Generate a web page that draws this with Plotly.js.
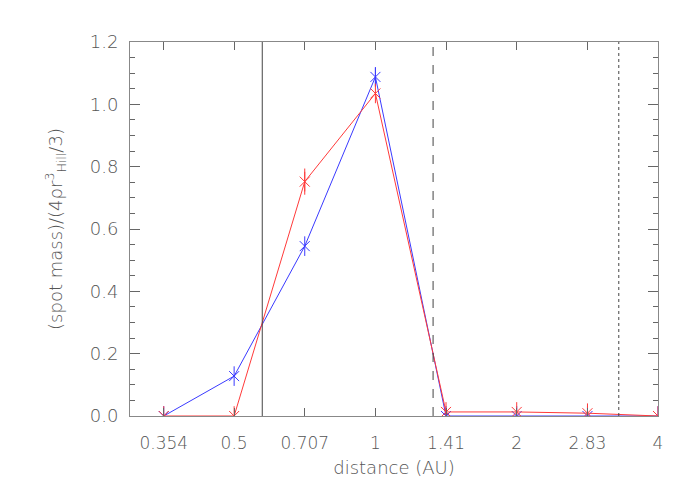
<!DOCTYPE html>
<html>
<head>
<meta charset="utf-8">
<script src="https://cdn.plot.ly/plotly-3.0.1.min.js"></script>
<style>html,body{margin:0;padding:0;background:#fff}#chart{width:700px;height:500px}</style>
</head>
<body>
<div id="chart"></div>
<script>
const distance = [0.354, 0.5, 0.707, 1.0, 1.414, 2.0, 2.83, 4.0];
const tickVals = [0.354, 0.5, 0.707, 1.0, 1.414, 2.0, 2.83, 4.0];
const tickText = ['0.354', '0.5', '0.707', '1', '1.41', '2', '2.83', '4'];
const redMass = [0.0, 0.0, 0.752, 1.035, 0.013, 0.013, 0.009, 0.0];
const redErr = [0, 0, 0.042, 0, 0, 0, 0, 0];
const blueMass = [0.0, 0.128, 0.545, 1.088, 0.0, 0.0, 0.0, 0.0];
const blueErr = [0, 0, 0, 0.03, 0, 0, 0, 0];
const markerLines = [0.574, 1.327, 3.30];
const markerDash = ['solid', 'dash', 'dot'];

const RED = '#ff3a3a', BLUE = '#3a3aff';
const FONT = {family: 'DejaVu Sans, Liberation Sans, sans-serif', size: 17, color: '#555', weight: 200};
const TITLEFONT = {family: 'DejaVu Sans, Liberation Sans, sans-serif', size: 18, color: '#555', weight: 200};

function series(y, err, color) {
  return [
    {x: distance, y: y, mode: 'lines+markers', type: 'scatter', cliponaxis: true,
     line: {color: color, width: 1},
     marker: {symbol: 'x-thin-open', size: 10, color: color, line: {color: color, width: 1}},
     error_y: {type: 'data', array: err, visible: true, color: color, thickness: 1, width: 0},
     showlegend: false, hoverinfo: 'x+y'},
    {x: distance, y: y, mode: 'markers', type: 'scatter', cliponaxis: true,
     marker: {symbol: 'line-ns-open', size: 14, color: color, line: {color: color, width: 1}},
     showlegend: false, hoverinfo: 'skip'}
  ];
}

const data = [...series(blueMass, blueErr, BLUE), ...series(redMass, redErr, RED)];

const shapes = markerLines.map((v, i) => ({
  type: 'line', xref: 'x', yref: 'paper', x0: v, x1: v, y0: 0, y1: 1,
  line: {color: '#444', width: 1, dash: markerDash[i]}
}));

const layout = {
  width: 700, height: 500,
  margin: {l: 130, r: 42, t: 42, b: 84},
  paper_bgcolor: '#fff', plot_bgcolor: '#fff',
  font: FONT,
  showlegend: false,
  shapes: shapes,
  xaxis: {
    type: 'log', range: [Math.log10(0.3), Math.log10(4)],
    tickvals: tickVals, ticktext: tickText,
    ticks: 'inside', ticklen: 8, tickcolor: '#666', tickwidth: 1,
    ticklabelstandoff: 12,
    showline: true, linecolor: '#888', linewidth: 1, mirror: 'ticks',
    showgrid: false, zeroline: false,
    tickfont: FONT,
    title: {text: 'distance (AU)', font: TITLEFONT, standoff: 8}
  },
  yaxis: {
    range: [0, 1.2], dtick: 0.2, tickformat: '.1f',
    ticks: 'inside', ticklen: 10, tickcolor: '#666', tickwidth: 1,
    ticklabelstandoff: 7,
    minor: {dtick: 0.05, ticks: 'inside', ticklen: 5, tickcolor: '#666'},
    showline: true, linecolor: '#888', linewidth: 1, mirror: 'ticks',
    showgrid: false, zeroline: false,
    tickfont: {family: FONT.family, size: 18, color: FONT.color, weight: 200},
    title: {text: '(spot mass)/(4ρr<sup>3</sup><sub>Hill</sub>/3)', font: TITLEFONT, standoff: 22}
  }
};

Plotly.newPlot('chart', data, layout, {displayModeBar: false, staticPlot: true});
</script>
</body>
</html>
